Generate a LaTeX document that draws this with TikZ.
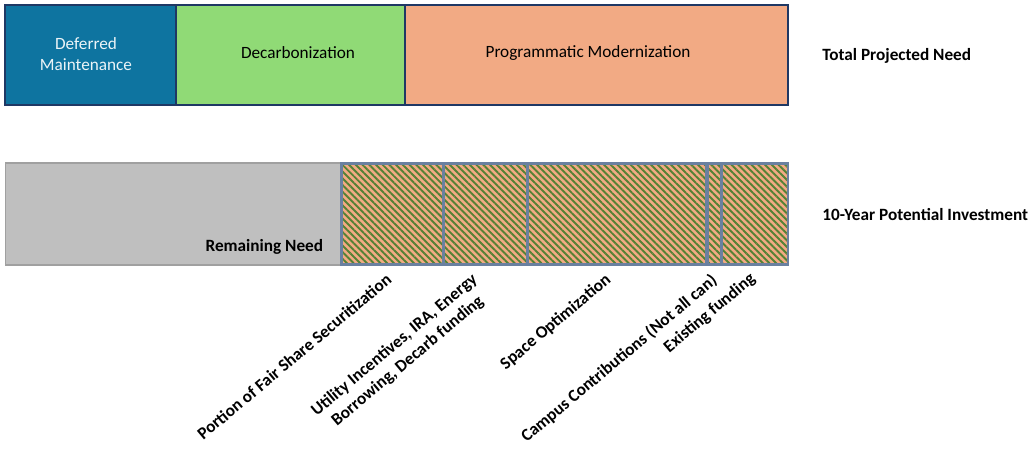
\documentclass[tikz,border=0pt]{standalone}
\usepackage{fontspec}
\setmainfont{Carlito}
\usetikzlibrary{positioning, calc, patterns.meta}
\definecolor{dmblue}{RGB}{14,116,160}
\definecolor{dcgreen}{RGB}{144,218,118}
\definecolor{pmorange}{RGB}{242,170,132}
\definecolor{navy}{RGB}{31,56,100}
\definecolor{needgray}{RGB}{191,191,191}
\definecolor{grayline}{RGB}{160,160,160}
\definecolor{hatchgreen}{RGB}{84,130,53}
\definecolor{steel}{RGB}{106,128,160}

\begin{document}
\begin{tikzpicture}[x=0.02cm, y=-0.02cm,
    need/.style={rectangle, draw=navy, line width=0.8pt, minimum height=2cm, inner sep=0pt},
    fund/.style={rectangle, draw=steel, line width=1.7pt, minimum height=2.04cm, inner sep=0pt, preaction={fill=pmorange}, pattern={Lines[angle=-45, distance=2.7pt, line width=1.1pt]}, pattern color=hatchgreen},
    txt/.style={font=\fontsize{9.8}{11.8}\selectfont, inner sep=0pt, align=center},
    lbl/.style={font=\bfseries\fontsize{9.8}{11.8}\selectfont, inner sep=0pt},
    rlbl/.style={lbl, anchor=east, rotate=40, align=center}
]
    \useasboundingbox (0,0) rectangle (1035,453);

    \node[need, fill=dmblue, minimum width=3.42cm] (dm) at (90.5,55) {};
    \node[need, fill=dcgreen, minimum width=4.58cm] (dc) at (290.5,55) {};
    \node[need, fill=pmorange, minimum width=7.66cm] (pm) at (596.5,55) {};
    \node[txt, text=white!92!dmblue] (dmtxt) at (86,54) {Deferred\\Maintenance};
    \node[txt] (dctxt) at (298,53) {Decarbonization};
    \node[txt] (pmtxt) at (588,53) {Programmatic Modernization};
    \node[lbl, anchor=west] (total) at (822,56) {Total Projected Need};

    \node[rectangle, draw=grayline, fill=needgray, line width=0.6pt, minimum width=6.72cm, minimum height=2.04cm] (rem) at (173,214) {};
    \node[lbl, anchor=base east] (remtxt) at ($(rem.south east)+(-18,-14)$) {Remaining Need};

    \node[fund, minimum width=2.04cm] (fs) at (392,214) {};
    \node[fund, minimum width=1.68cm] (ui) at (485,214) {};
    \node[fund, minimum width=3.6cm] (so) at (617,214) {};
    \node[fund, minimum width=0.28cm] (cc) at (714,214) {};
    \node[fund, minimum width=1.34cm] (ef) at (754.5,214) {};
    \node[lbl, anchor=west] (invest) at (822,215) {10-Year Potential Investment};

    \node[rlbl] (fslbl) at ($(fs.south)+(-3,11)$) {Portion of Fair Share Securitization};
    \node[rlbl] (uilbl) at ($(ui.south)+(-3,19)$) {Utility Incentives, IRA, Energy\\Borrowing, Decarb funding};
    \node[rlbl] (solbl) at ($(so.south)+(-8,11)$) {Space Optimization};
    \node[rlbl] (cclbl) at ($(cc.south)+(1,12)$) {Campus Contributions (Not all can)};
    \node[rlbl] (eflbl) at ($(ef.south)+(-1,10)$) {Existing funding};
\end{tikzpicture}
\end{document}
